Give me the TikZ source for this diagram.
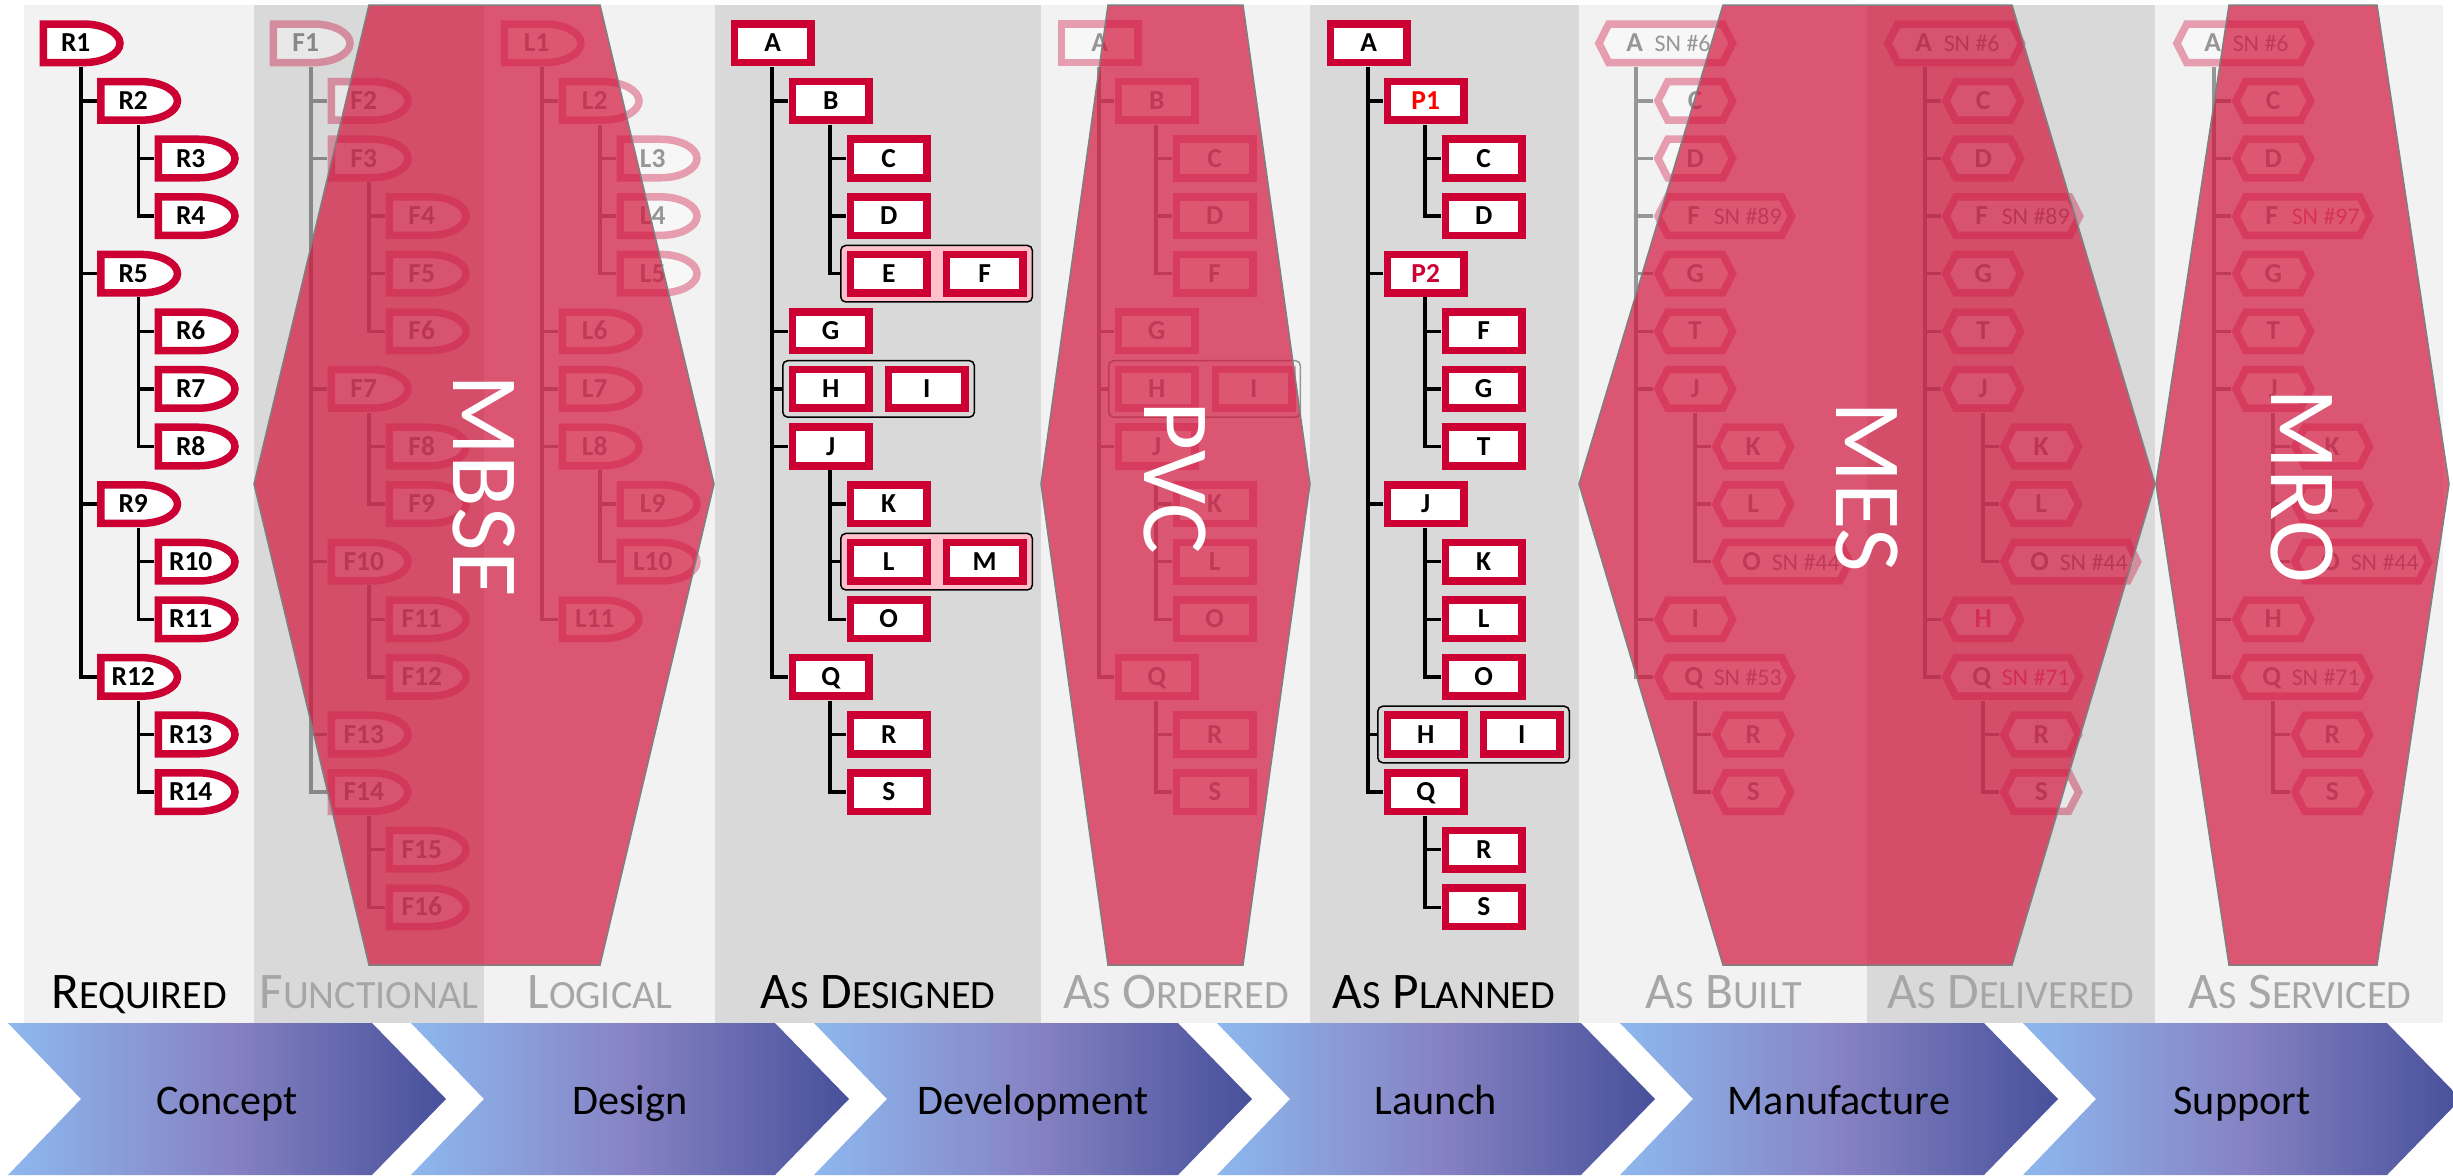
\documentclass[tikz,border=0pt]{standalone}
\usepackage{fontspec}
\setmainfont{Carlito}
\usetikzlibrary{calc}
\pgfdeclarelayer{back}
\pgfdeclarelayer{mid}
\pgfdeclarelayer{front}
\pgfdeclarelayer{top}
\pgfsetlayers{back,mid,main,front,top}
\definecolor{crim}{HTML}{CC0033}
\definecolor{bgL}{HTML}{F2F2F2}
\definecolor{bgD}{HTML}{D9D9D9}
\definecolor{ovl}{RGB}{210,20,60}
\definecolor{grpPink}{HTML}{FFC0CB}
\definecolor{lblGray}{HTML}{A6A6A6}
\definecolor{ovlLine}{HTML}{7F7F7F}
\definecolor{chL}{HTML}{8DB8EE}
\definecolor{chM}{HTML}{8683C4}
\definecolor{chR}{HTML}{47509A}
\newcommand\fullc{\colorlet{NB}{crim}\colorlet{NF}{white}\colorlet{NT}{black}\colorlet{NL}{black}\colorlet{NR}{crim}}
\newcommand\fadec[1]{\colorlet{NB}{crim!35!#1}\colorlet{NF}{white!40!#1}\colorlet{NT}{black!38!#1}\colorlet{NL}{black!38!#1}\colorlet{NR}{crim!50!#1}}
\fullc
\newcommand\lab{\fontsize{7.8}{8}\selectfont\bfseries}
\newcommand\snf{\fontsize{6.8}{7}\selectfont\mdseries}
\newcommand\sct[2]{{\fontsize{14.6}{16}\selectfont #1}{\fontsize{11.4}{12}\selectfont #2}}
\newcommand\DN[3]{\node[ds] (#1) at (#2,{43.3+57.6*#3}) {#1\kern0.12cm};}
\newcommand\RN[5][]{\node[rs,#1] (#2) at (#3,{43.3+57.6*#4}) {#5};}
\newcommand\HN[5][]{\node[hs,#1] (#2) at (#3,{43.3+57.6*#4}) {#5};}
\newcommand\HL[6]{\node[hl] (#1) at (#2,{43.3+57.6*#3}) {\makebox[1.42cm][l]{\hspace{0.40cm}\makebox[0pt]{#4}\hspace{0.20cm}{\snf\color{#6}SN~\##5}}};}
\newcommand\CN[2]{\foreach \cc in {#2}{\draw[conn] ([xshift=0.42cm]#1.south west) |- (\cc.west);}}
\tikzset{
 tn/.style={rectangle, inner sep=0pt, minimum height=0.46cm, minimum width=0.84cm, anchor=west, font=\lab, text=NT, text height=4.9pt, text depth=0pt},
 ds/.style={tn, path picture={\filldraw[fill=NF, draw=NB, line width=0.075cm]
   ($(path picture bounding box.north west)+(3.75,3.75)$) -- ($(path picture bounding box.north east)+(-40,3.75)$)
   .. controls ($(path picture bounding box.north east)+(-20.1,3.75)$) and ($(path picture bounding box.east)+(-3.75,-10.6)$) .. ($(path picture bounding box.east)+(-3.75,0)$)
   .. controls ($(path picture bounding box.east)+(-3.75,10.6)$) and ($(path picture bounding box.south east)+(-20.1,-3.75)$) .. ($(path picture bounding box.south east)+(-40,-3.75)$)
   -- ($(path picture bounding box.south west)+(3.75,-3.75)$) -- cycle;}},
 rs/.style={tn, path picture={\filldraw[fill=NF, draw=NB, line width=0.075cm]
   ($(path picture bounding box.north west)+(3.75,3.75)$) rectangle ($(path picture bounding box.south east)+(-3.75,-3.75)$);}},
 hs/.style={tn, minimum width=0.83cm, path picture={\filldraw[fill=NF, draw=NB, line width=0.075cm]
   ($(path picture bounding box.west)+(4.2,0)$) -- ($(path picture bounding box.north west)+(14,3.75)$) -- ($(path picture bounding box.north east)+(-14,3.75)$) -- ($(path picture bounding box.east)+(-4.2,0)$) -- ($(path picture bounding box.south east)+(-14,-3.75)$) -- ($(path picture bounding box.south west)+(14,-3.75)$) -- cycle;}},
 hl/.style={hs, minimum width=1.42cm},
 grp/.style={rectangle, rounded corners=0.05cm, draw=NL, line width=0.015cm, minimum width=1.915cm, minimum height=0.565cm, anchor=west, inner sep=0pt},
 conn/.style={draw=NL, line width=0.035cm},
 ovr/.style={fill=ovl, fill opacity=0.7, draw=ovlLine, line width=0.015cm},
 clab/.style={anchor=base, font=\fontsize{14.6}{16}\selectfont, inner sep=0pt},
 chev/.style={left color=chL, right color=chR, middle color=chM},
 chtext/.style={anchor=base, font=\fontsize{12}{14}\selectfont, text=black, inner sep=0pt},
 bigt/.style={rotate=-90, text=white, font=\fontsize{27}{30}\selectfont, inner sep=0pt},
}
\begin{document}
\begin{tikzpicture}[x=0.01cm, y=-0.01cm]
\useasboundingbox (0,0) rectangle (2453,1175);
\begin{pgfonlayer}{back}
 \fill[white] (0,0) rectangle (2453,1175);
 \fill[bgL] (24,5) rectangle (254,1023);
 \fill[bgD] (254,5) rectangle (484,1023);
 \fill[bgL] (484,5) rectangle (715,1023);
 \fill[bgD] (715,5) rectangle (1041,1023);
 \fill[bgL] (1041,5) rectangle (1310,1023);
 \fill[bgD] (1310,5) rectangle (1579,1023);
 \fill[bgL] (1579,5) rectangle (1867,1023);
 \fill[bgD] (1867,5) rectangle (2155,1023);
 \fill[bgL] (2155,5) rectangle (2443,1023);
 \node[clab, text=black] (lbR) at (139,1008) {\sct{R}{EQUIRED}};
 \node[clab, text=lblGray] (lbF) at (369,1008) {\sct{F}{UNCTIONAL}};
 \node[clab, text=lblGray] (lbL) at (600,1008) {\sct{L}{OGICAL}};
 \node[clab, text=black] (lbD) at (878,1008) {\sct{A}{S} \sct{D}{ESIGNED}};
 \node[clab, text=lblGray] (lbO) at (1176,1008) {\sct{A}{S} \sct{O}{RDERED}};
 \node[clab, text=black] (lbP) at (1444,1008) {\sct{A}{S} \sct{P}{LANNED}};
 \node[clab, text=lblGray] (lbB) at (1724,1008) {\sct{A}{S} \sct{B}{UILT}};
 \node[clab, text=lblGray] (lbV) at (2011,1008) {\sct{A}{S} \sct{D}{ELIVERED}};
 \node[clab, text=lblGray] (lbS) at (2300,1008) {\sct{A}{S} \sct{S}{ERVICED}};
 \foreach \x/\t/\n in {8/Concept/c1, 411/Design/c2, 814/Development/c3, 1217/Launch/c4, 1620/Manufacture/c5, 2023/Support/c6}{
   \shade[chev] (\x,1023) -- ++(364,0) -- ++(74,76) -- ++(-74,76) -- ++(-364,0) -- ++(73,-76) -- cycle;
   \node[chtext] (\n) at (\x+219,1114) {\t};
 }
\end{pgfonlayer}
% Required
\fullc
\DN{R1}{39}{0} \DN{R2}{96.5}{1} \DN{R3}{154}{2} \DN{R4}{154}{3} \DN{R5}{96.5}{4} \DN{R6}{154}{5} \DN{R7}{154}{6}
\DN{R8}{154}{7} \DN{R9}{96.5}{8} \DN{R10}{154}{9} \DN{R11}{154}{10} \DN{R12}{96.5}{11} \DN{R13}{154}{12} \DN{R14}{154}{13}
\begin{pgfonlayer}{mid}
\CN{R1}{R2,R5,R9,R12} \CN{R2}{R3,R4} \CN{R5}{R6,R7,R8} \CN{R9}{R10,R11} \CN{R12}{R13,R14}
\end{pgfonlayer}
% Functional
\fadec{bgD}
\DN{F1}{269}{0} \DN{F2}{327}{1} \DN{F3}{327}{2} \DN{F4}{385}{3} \DN{F5}{385}{4} \DN{F6}{385}{5} \DN{F7}{327}{6} \DN{F8}{385}{7}
\DN{F9}{385}{8} \DN{F10}{327}{9} \DN{F11}{385}{10} \DN{F12}{385}{11} \DN{F13}{327}{12} \DN{F14}{327}{13} \DN{F15}{385}{14} \DN{F16}{385}{15}
\begin{pgfonlayer}{mid}
\CN{F1}{F2,F3,F7,F10,F13,F14} \CN{F3}{F4,F5,F6} \CN{F7}{F8,F9} \CN{F10}{F11,F12} \CN{F14}{F15,F16}
\end{pgfonlayer}
% Logical
\fadec{bgL}
\DN{L1}{500}{0} \DN{L2}{558}{1} \DN{L3}{616}{2} \DN{L4}{616}{3} \DN{L5}{616}{4} \DN{L6}{558}{5} \DN{L7}{558}{6} \DN{L8}{558}{7}
\DN{L9}{616}{8} \DN{L10}{616}{9} \DN{L11}{558}{10}
\begin{pgfonlayer}{mid}
\CN{L1}{L2,L6,L7,L8,L11} \CN{L2}{L3,L4,L5} \CN{L8}{L9,L10}
\end{pgfonlayer}
% As designed
\fullc
\node[grp,fill=grpPink] (dEF) at (840,{43.3+57.6*4}) {};
\node[grp] (dHI) at (782,{43.3+57.6*6}) {};
\node[grp,fill=grpPink] (dLM) at (840,{43.3+57.6*9}) {};
\RN{dA}{730}{0}{A} \RN{dB}{788}{1}{B} \RN{dC}{846}{2}{C} \RN{dD}{846}{3}{D} \RN{dE}{846}{4}{E} \RN{dF}{942}{4}{F}
\RN{dG}{788}{5}{G} \RN{dH}{788}{6}{H} \RN{dI}{884}{6}{I} \RN{dJ}{788}{7}{J} \RN{dK}{846}{8}{K} \RN{dL}{846}{9}{L}
\RN{dM}{942}{9}{M} \RN{dO}{846}{10}{O} \RN{dQ}{788}{11}{Q} \RN{dR}{846}{12}{R} \RN{dS}{846}{13}{S}
\begin{pgfonlayer}{mid}
\CN{dA}{dB,dG,dHI,dJ,dQ} \CN{dB}{dC,dD,dEF} \CN{dJ}{dK,dLM,dO} \CN{dQ}{dR,dS}
\end{pgfonlayer}
% As ordered
\fadec{bgL}
\node[grp] (oHI) at (1108,{43.3+57.6*6}) {};
\RN{oA}{1057}{0}{A} \RN{oB}{1114}{1}{B} \RN{oC}{1172}{2}{C} \RN{oD}{1172}{3}{D} \RN{oF}{1172}{4}{F}
\RN{oG}{1114}{5}{G} \RN{oH}{1114}{6}{H} \RN{oI}{1211}{6}{I} \RN{oJ}{1114}{7}{J} \RN{oK}{1172}{8}{K} \RN{oL}{1172}{9}{L}
\RN{oO}{1172}{10}{O} \RN{oQ}{1114}{11}{Q} \RN{oR}{1172}{12}{R} \RN{oS}{1172}{13}{S}
\begin{pgfonlayer}{mid}
\CN{oA}{oB,oG,oHI,oJ,oQ} \CN{oB}{oC,oD,oF} \CN{oJ}{oK,oL,oO} \CN{oQ}{oR,oS}
\end{pgfonlayer}
% As planned
\fullc
\node[grp] (pHI) at (1377,{43.3+57.6*12}) {};
\RN{pA}{1326}{0}{A} \RN[text=red]{pP1}{1383}{1}{P1} \RN{pC}{1441}{2}{C} \RN{pD}{1441}{3}{D}
\RN[text=crim]{pP2}{1383}{4}{P2} \RN{pF}{1441}{5}{F} \RN{pG}{1441}{6}{G} \RN{pT}{1441}{7}{T}
\RN{pJ}{1383}{8}{J} \RN{pK}{1441}{9}{K} \RN{pL}{1441}{10}{L} \RN{pO}{1441}{11}{O}
\RN{pH}{1383}{12}{H} \RN{pI}{1479}{12}{I} \RN{pQ}{1383}{13}{Q} \RN{pR}{1441}{14}{R} \RN{pS}{1441}{15}{S}
\begin{pgfonlayer}{mid}
\CN{pA}{pP1,pP2,pJ,pHI,pQ} \CN{pP1}{pC,pD} \CN{pP2}{pF,pG,pT} \CN{pJ}{pK,pL,pO} \CN{pQ}{pR,pS}
\end{pgfonlayer}
% As built
\fadec{bgL}
\HL{bA}{1594}{0}{A}{6}{NT} \HN{bC}{1653}{1}{C} \HN{bD}{1653}{2}{D} \HL{bF}{1653}{3}{F}{89}{NT}
\HN{bG}{1653}{4}{G} \HN{bT}{1653}{5}{T} \HN{bJ}{1653}{6}{J} \HN{bK}{1711}{7}{K} \HN{bL}{1711}{8}{L}
\HL{bO}{1711}{9}{O}{44}{NT} \HN{bI}{1653}{10}{I} \HL{bQ}{1653}{11}{Q}{53}{NT} \HN{bR}{1711}{12}{R} \HN{bS}{1711}{13}{S}
\begin{pgfonlayer}{mid}
\CN{bA}{bC,bD,bF,bG,bT,bJ,bI,bQ} \CN{bJ}{bK,bL,bO} \CN{bQ}{bR,bS}
\end{pgfonlayer}
% As delivered
\fadec{bgD}
\HL{vA}{1883}{0}{A}{6}{NT} \HN{vC}{1941}{1}{C} \HN{vD}{1941}{2}{D} \HL{vF}{1941}{3}{F}{89}{NT}
\HN{vG}{1941}{4}{G} \HN{vT}{1941}{5}{T} \HN{vJ}{1941}{6}{J} \HN{vK}{1999}{7}{K} \HN{vL}{1999}{8}{L}
\HL{vO}{1999}{9}{O}{44}{NT} \HN[text=NR]{vH}{1941}{10}{H} \HL{vQ}{1941}{11}{Q}{71}{NR} \HN{vR}{1999}{12}{R} \HN{vS}{1999}{13}{S}
\begin{pgfonlayer}{mid}
\CN{vA}{vC,vD,vF,vG,vT,vJ,vH,vQ} \CN{vJ}{vK,vL,vO} \CN{vQ}{vR,vS}
\end{pgfonlayer}
% As serviced
\fadec{bgL}
\HL{sA}{2172}{0}{A}{6}{NT} \HN{sC}{2231}{1}{C} \HN{sD}{2231}{2}{D} \HL{sF}{2231}{3}{F}{97}{NR}
\HN{sG}{2231}{4}{G} \HN{sT}{2231}{5}{T} \HN{sJ}{2231}{6}{J} \HN{sK}{2290}{7}{K} \HN{sL}{2290}{8}{L}
\HL{sO}{2290}{9}{O}{44}{NT} \HN{sH}{2231}{10}{H} \HL{sQ}{2231}{11}{Q}{71}{NT} \HN{sR}{2290}{12}{R} \HN{sS}{2290}{13}{S}
\begin{pgfonlayer}{mid}
\CN{sA}{sC,sD,sF,sG,sT,sJ,sH,sQ} \CN{sJ}{sK,sL,sO} \CN{sQ}{sR,sS}
\end{pgfonlayer}
% overlays
\begin{pgfonlayer}{front}
 \filldraw[ovr] (369,5) -- (600,5) -- (714,484) -- (600,965) -- (369,965) -- (254,484) -- cycle;
 \filldraw[ovr] (1108,5) -- (1243,5) -- (1310,484) -- (1243,965) -- (1108,965) -- (1041,484) -- cycle;
 \filldraw[ovr] (1723,5) -- (2012,5) -- (2155,484) -- (2012,965) -- (1723,965) -- (1579,484) -- cycle;
 \filldraw[ovr] (2229,5) -- (2377,5) -- (2449,484) -- (2377,965) -- (2229,965) -- (2156,484) -- cycle;
\end{pgfonlayer}
\begin{pgfonlayer}{top}
 \node[bigt] (tMBSE) at (484,486) {MBSE};
 \node[bigt] (tPVC) at (1175,478) {PVC};
 \node[bigt] (tMES) at (1867,487) {MES};
 \node[bigt] (tMRO) at (2302,486) {MRO};
\end{pgfonlayer}
\end{tikzpicture}
\end{document}
